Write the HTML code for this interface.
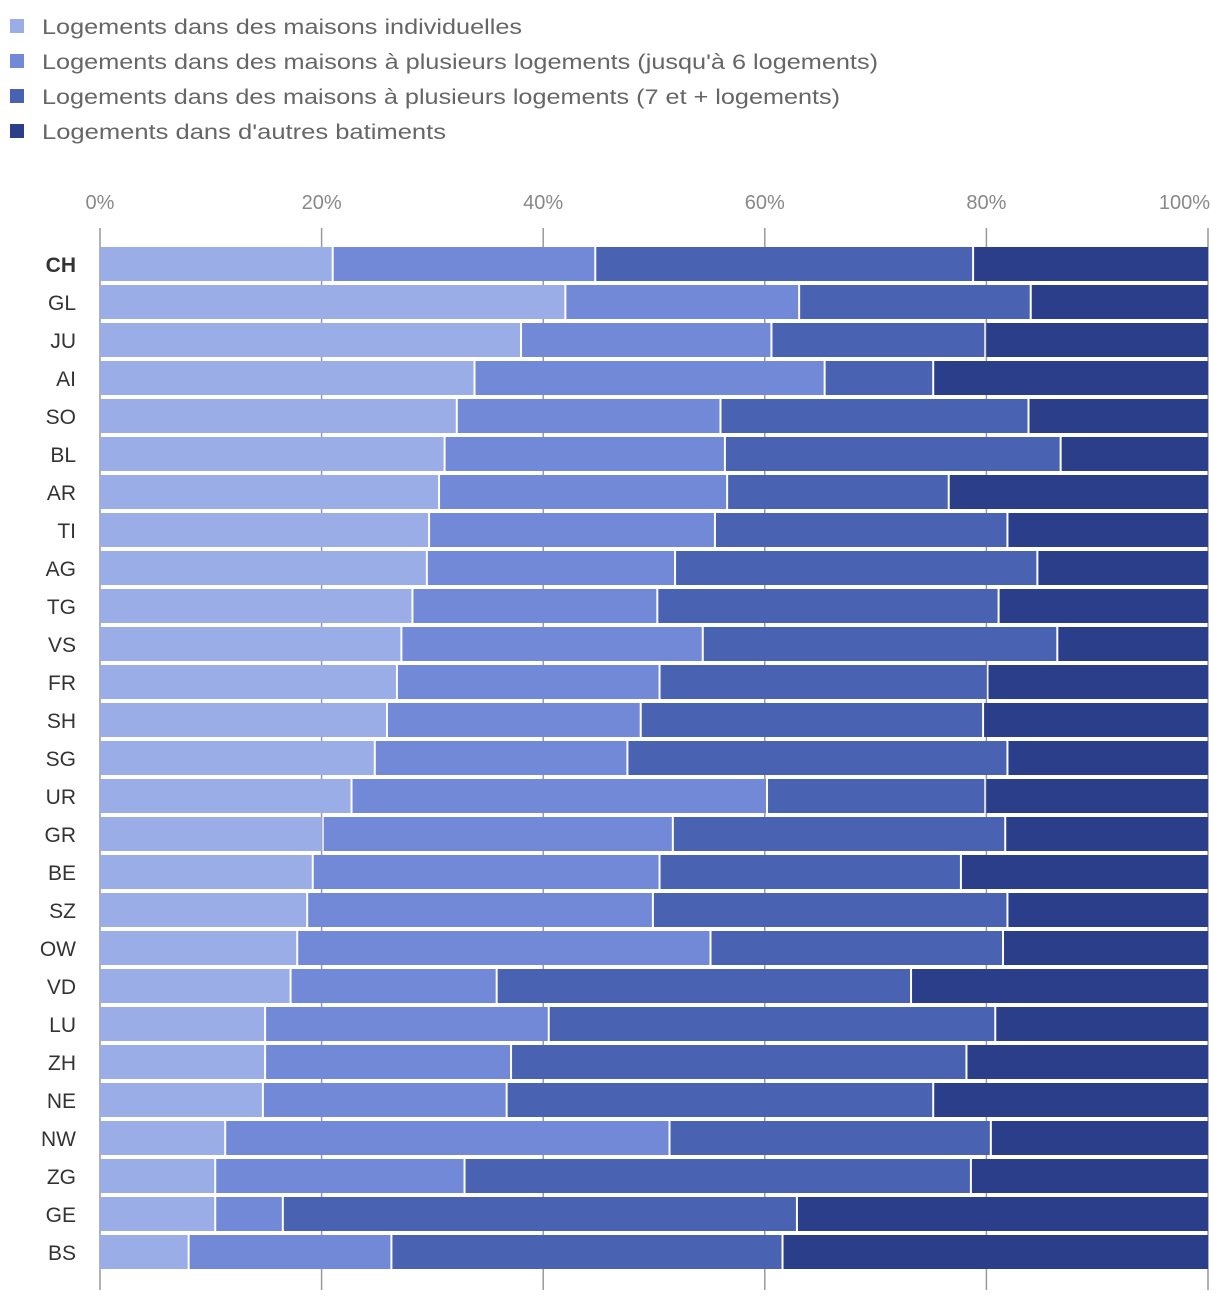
<!DOCTYPE html>
<html><head><meta charset="utf-8">
<style>
body{margin:0;background:#fff;font-family:"Liberation Sans",sans-serif;}
svg text{font-family:"Liberation Sans",sans-serif;}
</style></head>
<body>
<svg id="chart" width="1220" height="1300" xmlns="http://www.w3.org/2000/svg"></svg>
<script>
const categories=["CH","GL","JU","AI","SO","BL","AR","TI","AG","TG","VS","FR","SH","SG","UR","GR","BE","SZ","OW","VD","LU","ZH","NE","NW","ZG","GE","BS"];
const seriesNames=["Logements dans des maisons individuelles","Logements dans des maisons à plusieurs logements (jusqu'à 6 logements)","Logements dans des maisons à plusieurs logements (7 et + logements)","Logements dans d'autres batiments"];
const cum1=[21.0,42.0,38.0,33.8,32.2,31.1,30.6,29.7,29.5,28.2,27.2,26.8,25.9,24.8,22.7,20.1,19.2,18.7,17.8,17.2,14.9,14.9,14.7,11.3,10.4,10.4,8.0];
const cum2=[44.7,63.1,60.6,65.4,56.0,56.4,56.6,55.5,51.9,50.3,54.4,50.5,48.8,47.6,60.2,51.7,50.5,49.9,55.1,35.8,40.5,37.1,36.7,51.4,32.9,16.5,26.3];
const cum3=[78.8,84.0,79.9,75.2,83.8,86.7,76.6,81.9,84.6,81.1,86.4,80.1,79.7,81.9,79.9,81.7,77.7,81.9,81.5,73.2,80.8,78.2,75.2,80.4,78.6,62.9,61.6];
const s1=cum1.slice();
const s2=cum2.map((v,i)=>v-cum1[i]);
const s3=cum3.map((v,i)=>v-cum2[i]);
const s4=cum3.map(v=>100-v);
const series=[s1,s2,s3,s4];
const ticks=[0,20,40,60,80,100];
const colors=["#9aade6","#7189d7","#4a62b2","#2a3e89"];
const legendWidths=[480,836,798,404];
const NS="http://www.w3.org/2000/svg";
const svg=document.getElementById("chart");
const x=v=>100+v*11.08;
const yc=i=>264+i*38;
function mk(tag,attrs,parent){const e=document.createElementNS(NS,tag);for(const k in attrs)e.setAttribute(k,attrs[k]);(parent||svg).appendChild(e);return e;}
seriesNames.forEach((n,i)=>{
  const g=mk("g",{});
  
  
  mk("rect",{x:10,y:19+i*35,width:14,height:14,fill:colors[i]},g);
  const t=mk("text",{x:42,y:34+i*35,"font-size":21.5,fill:"#666",textLength:legendWidths[i],lengthAdjust:"spacingAndGlyphs"},g);t.textContent=n;
});
ticks.forEach(v=>{
  const l=mk("line",{x1:x(v),x2:x(v),y1:228,y2:1290,stroke:"#999","stroke-width":1.5});
  
  
  const t=mk("text",{x:x(v),y:209,"font-size":20,fill:"#888","text-anchor":v==100?"end":"middle"});
  if(v==100)t.setAttribute("x",x(v)+2);
  t.textContent=v+"%";
  
  
});
categories.forEach((c,i)=>{
  const t=mk("text",{x:76,y:yc(i)+8,"font-size":21,fill:"#333","text-anchor":"end","font-weight":c=="CH"?"bold":"normal"});
  t.textContent=c;
  
  
  let acc=0;
  series.forEach((s,k)=>{
    const r=mk("rect",{x:x(acc)+(acc>0?1:0),y:yc(i)-17,width:Math.max(0,x(acc+s[i])-x(acc)-(acc>0?1:0)-(k<3?1:0)),height:34,fill:colors[k]});
    
    
    acc+=s[i];
  });
});
</script>
</body></html>
